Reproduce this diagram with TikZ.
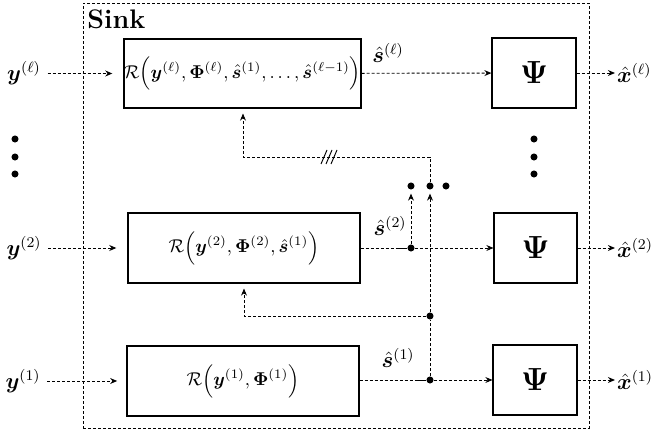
\documentclass[tikz,border=0pt]{standalone}
\usepackage{amsmath,amssymb,bm}
\usetikzlibrary{arrows.meta,calc}
\newcommand{\upx}{0.54pt}
\begin{document}
\begin{tikzpicture}[x=0.54pt,y=-0.54pt,
  dotline/.style={line width=0.5pt, dash pattern=on 1.6pt off 1.1pt},
  arr/.style={dotline, -{Stealth[length=3.8pt,width=3.2pt]}},
  blk/.style={draw, line width=0.6pt, inner sep=0pt},
  rbox/.style={blk, minimum width=231*\upx, minimum height=69*\upx},
  pbox/.style={blk, minimum width=84*\upx, minimum height=70*\upx, font=\LARGE},
  jn/.style={circle, fill, inner sep=0pt, minimum size=3.8pt},
  lbl/.style={inner sep=1pt, font=\large},
  tick/.style={line width=0.5pt}]
\useasboundingbox (0,0) rectangle (659,434);

% outer sink frame and its title
\node[dotline, draw, minimum width=506*\upx, minimum height=425*\upx] (sink) at (336,215.5) {};
\node[anchor=base west, inner sep=0pt, font=\fontsize{14.5}{16}\selectfont\bfseries] (sinklbl) at (87,29) {Sink};

% reconstruction blocks
\node[rbox] (Rl) at (242.5,73.5) {$\mathcal{R}\Big(\bm{y}^{(\ell)},\bm{\Phi}^{(\ell)},\hat{\bm{s}}^{(1)},\ldots,\hat{\bm{s}}^{(\ell-1)}\Big)$};
\node[rbox, minimum width=232*\upx, minimum height=70*\upx] (R2) at (244,248) {$\mathcal{R}\Big(\bm{y}^{(2)},\bm{\Phi}^{(2)},\hat{\bm{s}}^{(1)}\Big)$};
\node[rbox, minimum width=232*\upx, minimum height=70*\upx] (R1) at (243,381) {$\mathcal{R}\Big(\bm{y}^{(1)},\bm{\Phi}^{(1)}\Big)$};

% synthesis blocks
\node[pbox] (Pl) at (534,73) {$\bm{\Psi}$};
\node[pbox, minimum width=83*\upx] (P2) at (535.5,248) {$\bm{\Psi}$};
\node[pbox] (P1) at (535,380) {$\bm{\Psi}$};

% inputs
\node[lbl] (yl) at (24,73.5) {$\bm{y}^{(\ell)}$};
\node[lbl] (y2) at (24,248) {$\bm{y}^{(2)}$};
\node[lbl] (y1) at (23,381) {$\bm{y}^{(1)}$};
\node[jn] (ld1) at (15,139) {};
\node[jn] (ld2) at (15,157) {};
\node[jn] (ld3) at (15,174) {};

% outputs
\node[lbl, anchor=west] (xl) at (615,73) {$\hat{\bm{x}}^{(\ell)}$};
\node[lbl, anchor=west] (x2) at (615,248) {$\hat{\bm{x}}^{(2)}$};
\node[lbl, anchor=west] (x1) at (615,380) {$\hat{\bm{x}}^{(1)}$};
\node[jn] (rd1) at (534,139) {};
\node[jn] (rd2) at (534,157) {};
\node[jn] (rd3) at (534,174) {};

% junctions
\node[jn] (j2) at (411,248) {};
\node[jn] (j1) at (430,380) {};
\node[jn] (j12) at (430,316) {};
\node[jn] (d1) at (411,186) {};
\node[jn] (d2) at (430,186) {};
\node[jn] (d3) at (446,186) {};
\coordinate (fb) at (243,157);

% estimate labels
\node[lbl] (sl) at (388,53) {$\hat{\bm{s}}^{(\ell)}$};
\node[lbl] (s2) at (390,226) {$\hat{\bm{s}}^{(2)}$};
\node[lbl] (s1) at (398,358) {$\hat{\bm{s}}^{(1)}$};

% input arrows
\draw[arr, shorten <=2.5pt, shorten >=6pt] (yl) -- (Rl);
\draw[arr, shorten <=2.5pt, shorten >=6pt] (y2) -- (R2);
\draw[arr, shorten <=2.5pt, shorten >=5pt] (y1) -- (R1);

% output arrows
\draw[arr] (Pl) -- (xl);
\draw[arr] (P2) -- (x2);
\draw[arr] (P1) -- (x1);

% forward paths
\draw[arr] (Rl) -- (Pl);
\draw[dotline] (R2.east |- j2) -- (j2);
\draw[line width=0.5pt] ($(j2)+(-12,0)$) -- (j2);
\draw[arr] (j2) -- (P2.west |- j2);
\draw[dotline] (R1.east |- j1) -- (j1);
\draw[line width=0.5pt] ($(j1)+(-12,0)$) -- (j1);
\draw[arr] (j1) -- (P1.west |- j1);

% upward paths and feedback
\draw[arr, shorten >=2pt] (j2) -- (d1);
\draw[dotline] (j1) -- (j12);
\draw[arr, shorten >=2pt] (j12) -- (d2);
\draw[arr, shorten >=2.7pt] (j12) -| (R2.south);
\draw[arr, shorten >=2.7pt] (d2) |- (fb) -- (fb |- Rl.south);

% bundle mark on the feedback line
\draw[tick] (321,164) -- (327,150);
\draw[tick] (326,164) -- (332,150);
\draw[tick] (331,164) -- (337,150);
\end{tikzpicture}
\end{document}
